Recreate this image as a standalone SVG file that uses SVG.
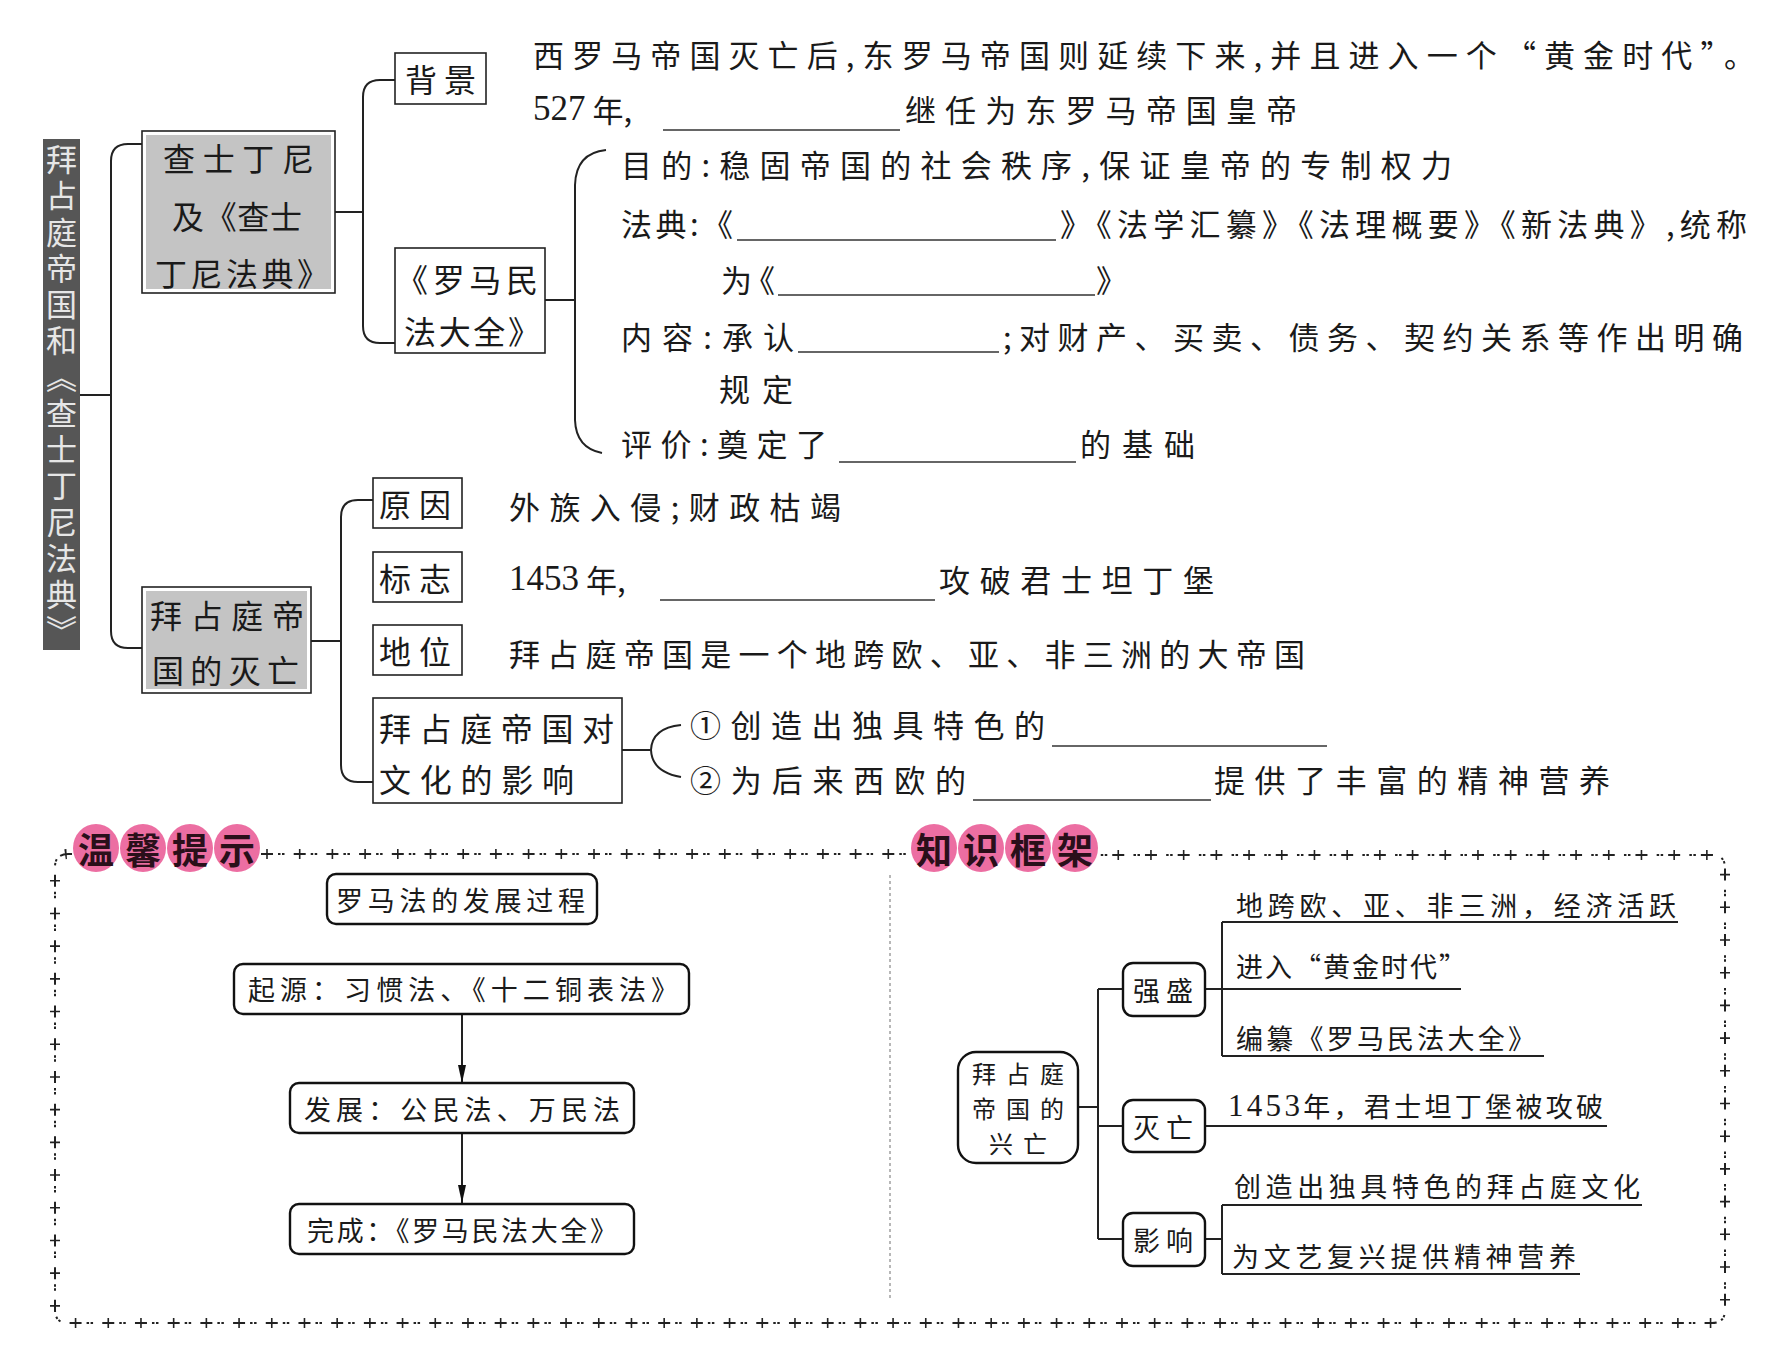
<svg xmlns="http://www.w3.org/2000/svg" width="1782" height="1355" viewBox="0 0 1782 1355">
<defs>
<style>
text{font-family:"Noto Sans CJK SC","Noto Sans",sans-serif;fill:#1a1a1a;dominant-baseline:central}
.t{font-size:31px}
.b{font-size:32px}
.s{font-size:27px}
.m{font-size:24px}
.num{font-family:"Liberation Serif",serif;font-size:35px}
.box{fill:#fff;stroke:#222;stroke-width:1.6}
.gbox{fill:#fff;stroke:#222;stroke-width:1.6}
.gin{fill:#c4c4c4;stroke:none}
.ln{fill:none;stroke:#222;stroke-width:2}
.ul{stroke:#333;stroke-width:1.6}
.rbox{fill:#fff;stroke:#111;stroke-width:2.4}
.pk{fill:#ec6ea2}
.pkt{font-size:36px;font-weight:bold;fill:#2a0f1a}
.bd1{fill:none;stroke:#222;stroke-width:2;stroke-dasharray:12 5 2.5 1.5 2.5 9.2}
.bd2{fill:none;stroke:#222;stroke-width:10;stroke-dasharray:1.6 31.1;stroke-dashoffset:-5.2}
</style>
<marker id="arr" viewBox="0 0 18 8" refX="18" refY="4" markerWidth="18" markerHeight="8" orient="auto" markerUnits="userSpaceOnUse">
<path d="M0 0 L18 4 L0 8 z" fill="#111"/>
</marker>
<path id="bdA" d="M72 854 H68 Q55 854 55 867 V1310 Q55 1323 68 1323 H1712 Q1725 1323 1725 1310 V868 Q1725 855 1712 855 H1100"/>
<path id="bdB" d="M261 854 H909"/>
</defs>
<rect width="1782" height="1355" fill="#fff"/>

<!-- connectors -->
<g id="connectors">
<path class="ln" d="M80 395 H111"/>
<path class="ln" d="M142 144 H128 Q111 144 111 161 V631 Q111 648 128 648 H142"/>
<path class="ln" d="M335 212 H363"/>
<path class="ln" d="M395 80 H380 Q363 80 363 97 V326 Q363 343 380 343 H395"/>
<path class="ln" d="M545 300 H575"/>
<path class="ln" d="M606 150 Q576 153 575 185 V420 Q576 448 602 453"/>
<path class="ln" d="M311 641 H341"/>
<path class="ln" d="M373 500 H358 Q341 500 341 517 V765 Q341 782 358 782 H373"/>
<path class="ln" d="M622 750 H650"/>
<path class="ln" d="M681 725 Q652 728 651 750 Q652 772 681 777"/>
<!-- lower left arrows -->
<path class="ln" d="M462 1014 V1083" marker-end="url(#arr)"/>
<path class="ln" d="M462 1133 V1203" marker-end="url(#arr)"/>
<!-- lower right tree -->
<path class="ln" d="M1078 1107 H1098 M1098 989 V1239 M1098 989 H1123 M1098 1126 H1123 M1098 1239 H1123"/>
<path class="ln" d="M1205 989 H1461 M1222 922 V1056 M1222 922 H1678 M1222 1056 H1544"/>
<path class="ln" d="M1205 1126 H1607"/>
<path class="ln" d="M1205 1239 H1222 M1222 1205 V1274 M1222 1205 H1642 M1222 1274 H1580"/>
</g>

<!-- left vertical title -->
<g id="title-bar">
<rect x="43" y="139" width="37" height="511" fill="#565656"/>
<text x="61.5" y="144" writing-mode="vertical-rl" style="font-size:31px;fill:#e6e6e6" textLength="502" lengthAdjust="spacing">拜占庭帝国和《查士丁尼法典》</text>
</g>

<!-- node: 查士丁尼及《查士丁尼法典》 -->
<g id="node-justinian">
<rect class="gbox" x="142" y="131" width="193" height="162"/>
<rect class="gin" x="146" y="135" width="185" height="154"/>
<text class="b" x="163" y="157" textLength="151" lengthAdjust="spacing">查士丁尼</text>
<text class="b" x="172" y="215" textLength="130" lengthAdjust="spacing">及《查士</text>
<text class="b" x="155" y="272" textLength="174" lengthAdjust="spacing">丁尼法典》</text>
</g>

<g id="node-background">
<rect class="box" x="395" y="53" width="91" height="51"/>
<text class="b" x="405" y="78" textLength="71" lengthAdjust="spacing">背景</text>
<text class="t" x="533" y="53" textLength="1222" lengthAdjust="spacing">西罗马帝国灭亡后,东罗马帝国则延续下来,并且进入一个“黄金时代”。</text>
<text class="t" x="533" y="108"><tspan class="num">527</tspan> 年,</text>
<line class="ul" x1="663" y1="130" x2="900" y2="130"/>
<text class="t" x="905" y="108" textLength="392" lengthAdjust="spacing">继任为东罗马帝国皇帝</text>
</g>

<g id="node-corpus">
<rect class="box" x="395" y="248" width="150" height="105"/>
<text class="b" x="396" y="278" textLength="142" lengthAdjust="spacing">《罗马民</text>
<text class="b" x="404" y="330" textLength="136" lengthAdjust="spacing">法大全》</text>
<text class="t" x="621" y="163" textLength="831" lengthAdjust="spacing">目的:稳固帝国的社会秩序,保证皇帝的专制权力</text>
<text class="t" x="621" y="222" textLength="112" lengthAdjust="spacing">法典:《</text>
<line class="ul" x1="737" y1="240" x2="1056" y2="240"/>
<text class="t" x="1060" y="222" textLength="687" lengthAdjust="spacing">》《法学汇纂》《法理概要》《新法典》,统称</text>
<text class="t" x="721" y="278" textLength="54" lengthAdjust="spacing">为《</text>
<line class="ul" x1="778" y1="295" x2="1095" y2="295"/>
<text class="t" x="1096" y="278">》</text>
<text class="t" x="621" y="335" textLength="173" lengthAdjust="spacing">内容:承认</text>
<line class="ul" x1="798" y1="352" x2="999" y2="352"/>
<text class="t" x="1003" y="335" textLength="740" lengthAdjust="spacing">;对财产、买卖、债务、契约关系等作出明确</text>
<text class="t" x="719" y="387" textLength="74" lengthAdjust="spacing">规定</text>
<text class="t" x="621" y="442" textLength="206" lengthAdjust="spacing">评价:奠定了</text>
<line class="ul" x1="839" y1="462" x2="1076" y2="462"/>
<text class="t" x="1080" y="442" textLength="115" lengthAdjust="spacing">的基础</text>
</g>

<!-- node: 拜占庭帝国的灭亡 -->
<g id="node-fall">
<rect class="gbox" x="142" y="587" width="169" height="106"/>
<rect class="gin" x="146" y="591" width="161" height="98"/>
<text class="b" x="150" y="614" textLength="154" lengthAdjust="spacing">拜占庭帝</text>
<text class="b" x="152" y="669" textLength="147" lengthAdjust="spacing">国的灭亡</text>
</g>

<g id="node-cause">
<rect class="box" x="373" y="478" width="89" height="50"/>
<text class="b" x="379" y="503" textLength="72" lengthAdjust="spacing">原因</text>
<text class="t" x="509" y="505" textLength="332" lengthAdjust="spacing">外族入侵;财政枯竭</text>
</g>

<g id="node-sign">
<rect class="box" x="373" y="552" width="89" height="50"/>
<text class="b" x="379" y="577" textLength="72" lengthAdjust="spacing">标志</text>
<text class="t" x="509" y="578"><tspan class="num">1453</tspan> 年,</text>
<line class="ul" x1="660" y1="600" x2="935" y2="600"/>
<text class="t" x="939" y="578" textLength="275" lengthAdjust="spacing">攻破君士坦丁堡</text>
</g>

<g id="node-status">
<rect class="box" x="373" y="625" width="89" height="50"/>
<text class="b" x="379" y="650" textLength="72" lengthAdjust="spacing">地位</text>
<text class="t" x="509" y="652" textLength="796" lengthAdjust="spacing">拜占庭帝国是一个地跨欧、亚、非三洲的大帝国</text>
</g>

<g id="node-culture">
<rect class="box" x="373" y="698" width="249" height="105"/>
<text class="b" x="379" y="727" textLength="235" lengthAdjust="spacing">拜占庭帝国对</text>
<text class="b" x="379" y="778" textLength="195" lengthAdjust="spacing">文化的影响</text>
<text class="t" x="690" y="723" textLength="355" lengthAdjust="spacing">①创造出独具特色的</text>
<line class="ul" x1="1052" y1="746" x2="1327" y2="746"/>
<text class="t" x="690" y="778" textLength="276" lengthAdjust="spacing">②为后来西欧的</text>
<line class="ul" x1="973" y1="800" x2="1211" y2="800"/>
<text class="t" x="1214" y="778" textLength="396" lengthAdjust="spacing">提供了丰富的精神营养</text>
</g>

<!-- lower frame -->
<g id="frame">
<use href="#bdA" class="bd1"/>
<use href="#bdA" class="bd2"/>
<use href="#bdB" class="bd1"/>
<use href="#bdB" class="bd2"/>
<line x1="890" y1="875" x2="890" y2="1301" stroke="#888" stroke-width="1.2" stroke-dasharray="3 3"/>
</g>

<g id="label-tips">
<ellipse class="pk" cx="96" cy="848" rx="23" ry="24"/>
<ellipse class="pk" cx="143" cy="848" rx="23" ry="24"/>
<ellipse class="pk" cx="190" cy="848" rx="23" ry="24"/>
<ellipse class="pk" cx="237" cy="848" rx="23" ry="24"/>
<text class="pkt" x="96" y="848" text-anchor="middle">温</text>
<text class="pkt" x="143" y="848" text-anchor="middle">馨</text>
<text class="pkt" x="190" y="848" text-anchor="middle">提</text>
<text class="pkt" x="237" y="848" text-anchor="middle">示</text>
</g>

<g id="label-framework">
<ellipse class="pk" cx="934" cy="848" rx="23" ry="24"/>
<ellipse class="pk" cx="981" cy="848" rx="23" ry="24"/>
<ellipse class="pk" cx="1028" cy="848" rx="23" ry="24"/>
<ellipse class="pk" cx="1075" cy="848" rx="23" ry="24"/>
<text class="pkt" x="934" y="848" text-anchor="middle">知</text>
<text class="pkt" x="981" y="848" text-anchor="middle">识</text>
<text class="pkt" x="1028" y="848" text-anchor="middle">框</text>
<text class="pkt" x="1075" y="848" text-anchor="middle">架</text>
</g>

<g id="node-roman-law-title">
<rect class="rbox" x="327" y="874" width="270" height="50" rx="9"/>
<text class="s" x="336" y="899" textLength="249" lengthAdjust="spacing">罗马法的发展过程</text>
</g>
<g id="node-origin">
<rect class="rbox" x="234" y="964" width="455" height="50" rx="9"/>
<text class="s" x="248" y="988" textLength="430" lengthAdjust="spacing">起源：习惯法、《十二铜表法》</text>
</g>
<g id="node-develop">
<rect class="rbox" x="290" y="1083" width="344" height="50" rx="9"/>
<text class="s" x="304" y="1108" textLength="316" lengthAdjust="spacing">发展：公民法、万民法</text>
</g>
<g id="node-complete">
<rect class="rbox" x="290" y="1204" width="344" height="50" rx="9"/>
<text class="s" x="307" y="1229" textLength="310" lengthAdjust="spacing">完成：《罗马民法大全》</text>
</g>

<g id="node-rise-fall">
<rect class="rbox" x="958" y="1052" width="120" height="111" rx="18"/>
<text class="m" x="972" y="1072" textLength="92" lengthAdjust="spacing">拜占庭</text>
<text class="m" x="972" y="1107" textLength="92" lengthAdjust="spacing">帝国的</text>
<text class="m" x="989" y="1142" textLength="58" lengthAdjust="spacing">兴亡</text>
</g>
<g id="node-strong">
<rect class="rbox" x="1123" y="963" width="82" height="53" rx="10"/>
<text class="s" x="1133" y="989" textLength="60" lengthAdjust="spacing">强盛</text>
<text class="s" x="1236" y="904" textLength="440" lengthAdjust="spacing">地跨欧、亚、非三洲，经济活跃</text>
<text class="s" x="1236" y="965" textLength="230" lengthAdjust="spacing">进入“黄金时代”</text>
<text class="s" x="1236" y="1037" textLength="299" lengthAdjust="spacing">编纂《罗马民法大全》</text>
</g>
<g id="node-perish">
<rect class="rbox" x="1123" y="1100" width="82" height="52" rx="10"/>
<text class="s" x="1133" y="1126" textLength="60" lengthAdjust="spacing">灭亡</text>
<text class="s" x="1228" y="1105" textLength="375" lengthAdjust="spacing"><tspan style="font-family:'Liberation Serif',serif;font-size:31px">1453</tspan>年，君士坦丁堡被攻破</text>
</g>
<g id="node-influence">
<rect class="rbox" x="1123" y="1213" width="82" height="53" rx="10"/>
<text class="s" x="1133" y="1239" textLength="60" lengthAdjust="spacing">影响</text>
<text class="s" x="1234" y="1185" textLength="406" lengthAdjust="spacing">创造出独具特色的拜占庭文化</text>
<text class="s" x="1232" y="1255" textLength="344" lengthAdjust="spacing">为文艺复兴提供精神营养</text>
</g>
</svg>
